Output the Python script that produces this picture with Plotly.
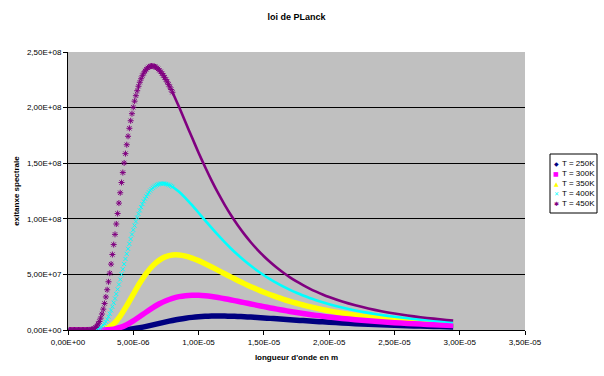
import plotly.graph_objects as go

# ---------------- text ----------------
title_text = "loi de PLanck"
x_title = "longueur d'onde en m"
y_title = "exitanxe spectrale"
series_names = ["T = 250K", "T = 300K", "T = 350K", "T = 400K", "T = 450K"]
series_colors = ["#000080", "#FF00FF", "#FFFF00", "#00FFFF", "#800080"]
legend_glyphs = ["◆", "■", "▲", "✕", "✱"]

x_tickvals = [0, 5e-6, 1e-5, 1.5e-5, 2e-5, 2.5e-5, 3e-5, 3.5e-5]
x_ticktext = ["0,00E+00", "5,00E-06", "1,00E-05", "1,50E-05", "2,00E-05",
              "2,50E-05", "3,00E-05", "3,50E-05"]
y_tickvals = [0, 5e7, 1e8, 1.5e8, 2e8, 2.5e8]
y_ticktext = ["0,00E+00", "5,00E+07", "1,00E+08", "1,50E+08", "2,00E+08", "2,50E+08"]

# ---------------- data (wavelength in micrometres, exitance in 1e6 W/m3) ----------------
wl_coarse_um = [0.1, 0.5, 1.0, 1.5, 2.0, 2.5, 3.0, 3.5, 4.0, 4.5,
                5.0, 5.5, 6.0, 6.5, 7.0, 7.5, 8.0, 8.5, 9.0, 9.5,
                10.0, 10.5, 11.0, 11.5, 12.0, 12.5, 13.0, 13.5, 14.0, 14.5,
                15.0, 15.5, 16.0, 16.5, 17.0, 17.5, 18.0, 18.5, 19.0, 19.5,
                20.0, 21.0, 22.0, 23.0, 24.0, 25.0, 26.0, 27.0, 28.0, 29.0, 29.5]

m_250 = [0, 0, 0, 0, 0, 0.0004, 0.0072, 0.0515, 0.206, 0.566,
         1.200, 2.123, 3.285, 4.606, 5.986, 7.336, 8.586, 9.681, 10.600, 11.337,
         11.885, 12.261, 12.482, 12.563, 12.529, 12.398, 12.188, 11.916, 11.596, 11.240,
         10.860, 10.463, 10.056, 9.648, 9.238, 8.835, 8.440, 8.055, 7.681, 7.319,
         6.972, 6.321, 5.726, 5.186, 4.699, 4.260, 3.865, 3.511, 3.192, 2.907, 2.775]

m_300 = [0, 0, 0, 0, 0.0005, 0.018, 0.176, 0.797, 2.268, 4.767,
         8.174, 12.142, 16.254, 20.155, 23.577, 26.376, 28.516, 29.997, 30.880, 31.246,
         31.175, 30.762, 30.069, 29.186, 28.153, 27.024, 25.832, 24.610, 23.392, 22.181,
         21.002, 19.851, 18.748, 17.691, 16.685, 15.728, 14.822, 13.968, 13.163, 12.404,
         11.692, 10.395, 9.253, 8.251, 7.369, 6.594, 5.913, 5.313, 4.784, 4.316, 4.103]

m_350 = [0, 0, 0, 0.0001, 0.0138, 0.277, 1.723, 5.648, 12.579, 21.861,
         32.194, 42.215, 50.961, 57.893, 62.850, 65.941, 67.381, 67.461, 66.489, 64.707,
         62.365, 59.639, 56.701, 53.645, 50.559, 47.519, 44.545, 41.702, 38.989, 36.417,
         33.995, 31.723, 29.600, 27.618, 25.772, 24.058, 22.467, 20.991, 19.624, 18.349,
         17.170, 15.063, 13.252, 11.688, 10.339, 9.173, 8.159, 7.278, 6.508, 5.835, 5.529]

wl_fine_um = [0.1, 0.2, 0.3, 0.4, 0.5, 0.6, 0.7, 0.8, 0.9, 1.0,
              1.1, 1.2, 1.3, 1.4, 1.5, 1.6, 1.7, 1.8, 1.9, 2.0,
              2.1, 2.2, 2.3, 2.4, 2.5, 2.6, 2.7, 2.8, 2.9, 3.0,
              3.1, 3.2, 3.3, 3.4, 3.5, 3.6, 3.7, 3.8, 3.9, 4.0,
              4.1, 4.2, 4.3, 4.4, 4.5, 4.6, 4.7, 4.8, 4.9, 5.0,
              5.1, 5.2, 5.3, 5.4, 5.5, 5.6, 5.7, 5.8, 5.9, 6.0,
              6.1, 6.2, 6.3, 6.4, 6.5, 6.6, 6.7, 6.8, 6.9, 7.0,
              7.1, 7.2, 7.3, 7.4, 7.5, 7.6, 7.7, 7.8, 7.9, 8.0]

m_400_fine = [0, 0, 0, 0, 0, 0, 0, 0, 0, 0,
              0, 0, 0, 0, 0, 0.006, 0.017, 0.042, 0.091, 0.181,
              0.333, 0.576, 0.939, 1.455, 2.162, 3.089, 4.272, 5.732, 7.490, 9.556,
              11.944, 14.639, 17.648, 20.952, 24.524, 28.334, 32.366, 36.586, 40.954, 45.443,
              50.014, 54.638, 59.287, 63.914, 68.497, 73.031, 77.460, 81.781, 85.964, 90.028,
              93.885, 97.573, 101.09, 104.42, 107.55, 110.48, 113.21, 115.73, 118.05, 120.17,
              122.10, 123.83, 125.37, 126.73, 127.92, 128.93, 129.77, 130.46, 130.99, 131.37,
              131.64, 131.74, 131.74, 131.61, 131.37, 131.03, 130.61, 130.08, 129.47, 128.77]

m_450_fine = [0, 0, 0, 0, 0, 0, 0, 0, 0, 0,
              0, 0, 0, 0.008, 0.027, 0.075, 0.179, 0.382, 0.743, 1.334,
              2.238, 3.542, 5.336, 7.698, 10.694, 14.376, 18.765, 23.882, 29.712, 36.203,
              43.357, 51.058, 59.259, 67.875, 76.806, 85.991, 95.330, 104.75, 114.14, 123.43,
              132.62, 141.56, 150.23, 158.60, 166.60, 174.20, 181.40, 188.17, 194.51, 200.30,
              205.78, 210.71, 215.16, 219.20, 222.77, 225.93, 228.67, 230.99, 232.94, 234.49,
              235.73, 236.61, 237.17, 237.39, 237.35, 237.06, 236.55, 235.77, 234.79, 233.60,
              232.23, 230.68, 228.98, 227.16, 225.16, 223.11, 220.90, 218.62, 216.24, 213.79]

wl_tail_um = [8.0, 8.5, 9.0, 9.5, 10.0, 10.5, 11.0, 11.5, 12.0, 12.5,
              13.0, 13.5, 14.0, 14.5, 15.0, 15.5, 16.0, 16.5, 17.0, 17.5,
              18.0, 18.5, 19.0, 19.5, 20.0, 21.0, 22.0, 23.0, 24.0, 25.0,
              26.0, 27.0, 28.0, 29.0, 29.5]

m_400_tail = [128.77, 124.30, 118.64, 112.21, 105.44, 98.573, 91.800, 85.238, 79.004, 73.107,
              67.596, 62.457, 57.709, 53.310, 49.271, 45.549, 42.131, 38.993, 36.122, 33.475,
              31.051, 28.833, 26.801, 24.918, 23.197, 20.158, 17.586, 15.386, 13.519, 11.916,
              10.539, 9.347, 8.318, 7.424, 7.022]

m_450_tail = [213.79, 200.73, 186.88, 173.01, 159.48, 146.51, 134.34, 123.01, 112.55, 102.97,
              94.197, 86.201, 78.934, 72.315, 66.348, 60.894, 55.956, 51.476, 47.401, 43.705,
              40.346, 37.283, 34.494, 31.947, 29.631, 25.569, 22.154, 19.278, 16.844, 14.778,
              13.010, 11.498, 10.194, 9.067, 8.562]

UM = 1e-6
MEGA = 1e6

# plot-area geometry in pixels
W, H = 604, 376
L, R, T, B = 68, 525, 52, 330


def xs(lst):
    return [v * UM for v in lst]


def ys(lst):
    return [v * MEGA for v in lst]


def px_x(p):
    return (p - L) / (R - L)


def px_y(p):
    return (B - p) / (B - T)


FONT = "Liberation Sans, Arial, sans-serif"
fig = go.Figure()

# series 250, 350, 300: dense marker bands drawn as thick lines
for i, vals in [(0, m_250), (2, m_350), (1, m_300)]:
    fig.add_trace(go.Scatter(
        x=xs(wl_coarse_um), y=ys(vals), mode="lines", name=series_names[i],
        line=dict(color=series_colors[i], width=5.5, shape="spline", smoothing=0.6),
        showlegend=False, hoverinfo="skip"))

# series 400, 450: tail band + individual markers on the rising side
fine_sets = [(3, m_400_fine, m_400_tail, "x-thin-open", 4),
             (4, m_450_fine, m_450_tail, "asterisk-open", 5)]
for i, fine, tail, sym, size in fine_sets:
    fig.add_trace(go.Scatter(
        x=xs(wl_tail_um), y=ys(tail), mode="lines",
        line=dict(color=series_colors[i], width=2.6, shape="spline", smoothing=0.6),
        showlegend=False, hoverinfo="skip"))
    fig.add_trace(go.Scatter(
        x=xs(wl_fine_um), y=ys(fine), mode="markers", name=series_names[i],
        marker=dict(color=series_colors[i], symbol=sym, size=size,
                    line=dict(color=series_colors[i], width=1)),
        showlegend=False))

# legend box (drawn by hand to match the compact original)
box_l, box_r, box_t, box_b = 550, 597, 154, 213
row_y = [163, 173, 183, 193, 203]
shapes = [dict(type="rect", xref="paper", yref="paper",
               x0=px_x(box_l), x1=px_x(box_r), y0=px_y(box_b), y1=px_y(box_t),
               line=dict(color="black", width=1), fillcolor="white", layer="above")]
annotations = []
for k in range(5):
    annotations.append(dict(xref="paper", yref="paper", x=px_x(556), y=px_y(row_y[k]),
                            text=legend_glyphs[k], showarrow=False, xanchor="center",
                            yanchor="middle",
                            font=dict(size=6, color=series_colors[k],
                                      family="DejaVu Sans")))
    annotations.append(dict(xref="paper", yref="paper", x=px_x(560), y=px_y(row_y[k]),
                            text=series_names[k], showarrow=False, xanchor="left",
                            yanchor="middle", font=dict(size=8, color="black", family=FONT)))

fig.update_layout(
    width=W, height=H,
    margin=dict(l=L, r=W - R, t=T, b=H - B, autoexpand=False),
    paper_bgcolor="white", plot_bgcolor="#C0C0C0",
    font=dict(family=FONT, size=8, color="black"),
    title=dict(text="<b>" + title_text + "</b>", x=0.5, xref="paper", xanchor="center",
               y=1 - 17 / H, yref="container", yanchor="middle",
               font=dict(size=9, family=FONT, color="black")),
    showlegend=False,
    shapes=shapes,
    annotations=annotations,
)

fig.update_xaxes(
    range=[0, 3.5e-5], tickvals=x_tickvals, ticktext=x_ticktext,
    ticks="outside", ticklen=4, tickcolor="black", showline=True, linecolor="black",
    linewidth=1, showgrid=False, zeroline=False,
    tickfont=dict(size=8, family=FONT, color="black"),
    title=dict(text="<b>" + x_title + "</b>", standoff=8,
               font=dict(size=8, family=FONT, color="black")))

fig.update_yaxes(
    range=[0, 2.5e8], tickvals=y_tickvals, ticktext=y_ticktext,
    ticks="outside", ticklen=4, tickcolor="black", showline=True, linecolor="black",
    linewidth=1, showgrid=True, gridcolor="black", gridwidth=1, zeroline=False,
    tickfont=dict(size=8, family=FONT, color="black"),
    title=dict(text="<b>" + y_title + "</b>", standoff=6,
               font=dict(size=8, family=FONT, color="black")))

# the page is exactly the figure: remove the browser's default body margin
fig.write_html("out.html",
               config={"displayModeBar": False},
               post_script="document.body.style.margin='0';document.body.style.overflow='hidden';")
